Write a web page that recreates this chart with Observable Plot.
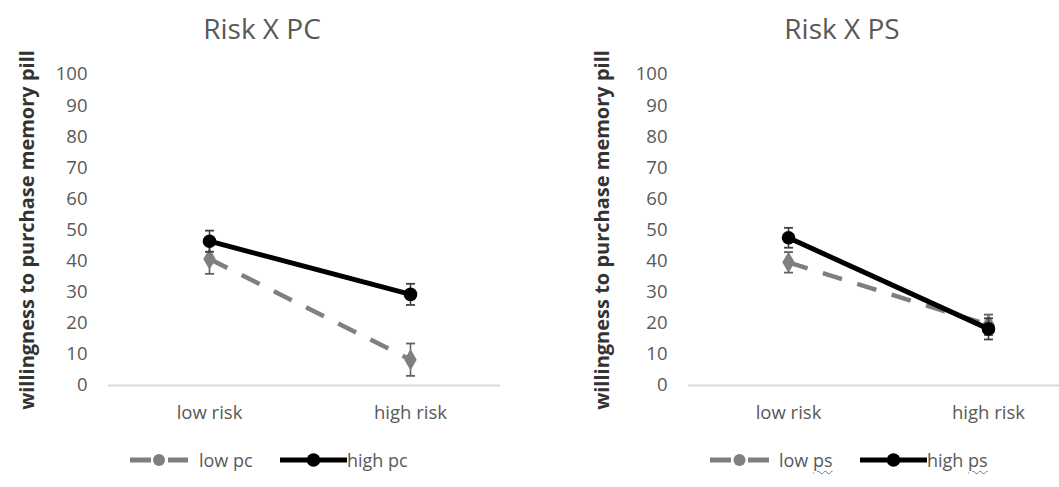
<!DOCTYPE html>
<html>
<head>
<meta charset="utf-8">
<script src="https://cdn.jsdelivr.net/npm/d3@7"></script>
<script src="https://cdn.jsdelivr.net/npm/@observablehq/plot@0.6"></script>
<style>
  html, body { margin: 0; padding: 0; background: #fff; }
  body { width: 1059px; height: 487px; position: relative; overflow: hidden; font-family: "Open Sans", sans-serif; }
  .panel { position: absolute; top: 0; height: 487px; }
  .title { position: absolute; top: 9px; font-size: 28px; color: #595959; white-space: nowrap; transform: translateX(-50%); line-height: 38px; }
  .chart { position: absolute; top: 52px; left: 0; }
  .leg { position: absolute; top: 448px; height: 24px; display: flex; align-items: center; font-size: 18px; color: #595959; white-space: nowrap; }
  .leg svg { display: block; }
  .sq { text-decoration: underline wavy #777; text-decoration-thickness: 1px; text-underline-offset: 3px; }
</style>
</head>
<body>
<script>
// ---- data ----
const risk = ["low risk", "high risk"];
const yTicks = [0, 10, 20, 30, 40, 50, 60, 70, 80, 90, 100];
const yLabel = "willingness to purchase memory pill";

const pcTitle = "Risk X PC";
const pcLowMean = [40.7, 8.3];
const pcLowErr = [4.8, 5.2];
const pcHighMean = [46.4, 29.3];
const pcHighErr = [3.4, 3.4];
const pcNames = ["low pc", "high pc"];

const psTitle = "Risk X PS";
const psLowMean = [39.6, 19.5];
const psLowErr = [3.3, 3.3];
const psHighMean = [47.5, 18.2];
const psHighErr = [3.2, 3.4];
const psNames = ["low ps", "high ps"];

const grayCol = "#7f7f7f";
const blackCol = "#000000";

// custom horizontal cap symbol for error bars
const capSymbol = {
  draw(context, size) {
    const w = Math.sqrt(size / Math.PI);
    context.moveTo(-w, 0);
    context.lineTo(w, 0);
  }
};

function rows(m, e) {
  return risk.map((r, i) => ({risk: r, y: m[i], lo: m[i] - e[i], hi: m[i] + e[i]}));
}

function seriesMarks(data, color, dashed, symbol, r, errColor) {
  return [
    Plot.line(data, {x: "risk", y: "y", stroke: color, strokeWidth: dashed ? 4.5 : 5, strokeDasharray: dashed ? "20,16" : null, strokeLinecap: "butt"}),
    Plot.ruleX(data, {x: "risk", y1: "lo", y2: "hi", stroke: errColor, strokeWidth: 1.6}),
    Plot.dot(data, {x: "risk", y: "lo", symbol: capSymbol, r: 4.5, stroke: errColor, strokeWidth: 1.8, fill: "none"}),
    Plot.dot(data, {x: "risk", y: "hi", symbol: capSymbol, r: 4.5, stroke: errColor, strokeWidth: 1.8, fill: "none"}),
    Plot.dot(data, {x: "risk", y: "y", symbol, r, fill: color, stroke: "none"})
  ];
}

function makePanel(cfg) {
  const panel = document.createElement("div");
  panel.className = "panel";
  panel.style.left = cfg.left + "px";
  panel.style.width = cfg.width + "px";

  const t = document.createElement("div");
  t.className = "title";
  t.style.left = cfg.titleX + "px";
  t.textContent = cfg.title;
  panel.appendChild(t);

  const low = rows(cfg.lowMean, cfg.lowErr);
  const high = rows(cfg.highMean, cfg.highErr);

  const chart = Plot.plot({
    width: cfg.width,
    height: 378,
    marginTop: 22,
    marginBottom: 45,
    marginLeft: cfg.marginLeft,
    marginRight: cfg.marginRight,
    style: {fontFamily: "'Open Sans', sans-serif", fontSize: "18px", color: "#595959", background: "transparent", overflow: "visible"},
    x: {type: "point", domain: risk, range: cfg.xRange, padding: 0},
    y: {domain: [0, 100]},
    marks: [
      Plot.ruleY([0], {stroke: "#d9d9d9", strokeWidth: 2}),
      Plot.axisY(yTicks, {tickSize: 0, tickPadding: 21, label: null, fontSize: 18.5, fill: "#595959"}),
      Plot.axisX({tickSize: 0, tickPadding: 20, label: null, fontSize: 18.5, fill: "#595959"}),
      Plot.text([yLabel], {frameAnchor: "left", dx: cfg.labelDx, rotate: -90, fontWeight: "bold", fontSize: 20, fill: "#333333", lineAnchor: "middle", textAnchor: "middle"}),
      ...seriesMarks(low, grayCol, true, "diamond", 6.5, "#606060"),
      ...seriesMarks(high, blackCol, false, "circle", 6.8, "#404040")
    ]
  });
  chart.classList.add("chart");
  panel.appendChild(chart);

  // legend
  cfg.legend.forEach((item, i) => {
    const d = document.createElement("div");
    d.className = "leg";
    d.style.left = item.x + "px";
    const w = item.w;
    const ns = "http://www.w3.org/2000/svg";
    const s = document.createElementNS(ns, "svg");
    s.setAttribute("width", w);
    s.setAttribute("height", 24);
    const ln = document.createElementNS(ns, "line");
    ln.setAttribute("x1", 0); ln.setAttribute("x2", w);
    ln.setAttribute("y1", 12); ln.setAttribute("y2", 12);
    ln.setAttribute("stroke", i === 0 ? grayCol : blackCol);
    ln.setAttribute("stroke-width", 5);
    if (i === 0) ln.setAttribute("stroke-dasharray", "21,17,21");
    s.appendChild(ln);
    const c = document.createElementNS(ns, "circle");
    c.setAttribute("cx", w / 2); c.setAttribute("cy", 12); c.setAttribute("r", i === 0 ? 6 : 6.8);
    c.setAttribute("fill", i === 0 ? grayCol : blackCol);
    s.appendChild(c);
    d.appendChild(s);
    const sp = document.createElement("span");
    sp.style.marginLeft = item.gap + "px";
    if (cfg.squiggle) {
      const parts = cfg.names[i].split(" ");
      sp.append(parts[0] + " ");
      const q = document.createElement("span");
      q.className = "sq";
      q.textContent = parts[1];
      sp.appendChild(q);
    } else {
      sp.textContent = cfg.names[i];
    }
    d.appendChild(sp);
    panel.appendChild(d);
  });

  document.body.appendChild(panel);
}

makePanel({
  left: 0, width: 530, marginLeft: 108, marginRight: 30, xRange: [209, 410],
  labelDx: -81, title: pcTitle, titleX: 262,
  lowMean: pcLowMean, lowErr: pcLowErr, highMean: pcHighMean, highErr: pcHighErr,
  names: pcNames, squiggle: false,
  legend: [{x: 130, w: 58, gap: 11}, {x: 280, w: 67, gap: 0}]
});

makePanel({
  left: 530, width: 529, marginLeft: 158, marginRight: 0, xRange: [258, 458],
  labelDx: -86, title: psTitle, titleX: 312,
  lowMean: psLowMean, lowErr: psLowErr, highMean: psHighMean, highErr: psHighErr,
  names: psNames, squiggle: true,
  legend: [{x: 180, w: 59, gap: 10}, {x: 330, w: 67, gap: 0}]
});
</script>
</body>
</html>
